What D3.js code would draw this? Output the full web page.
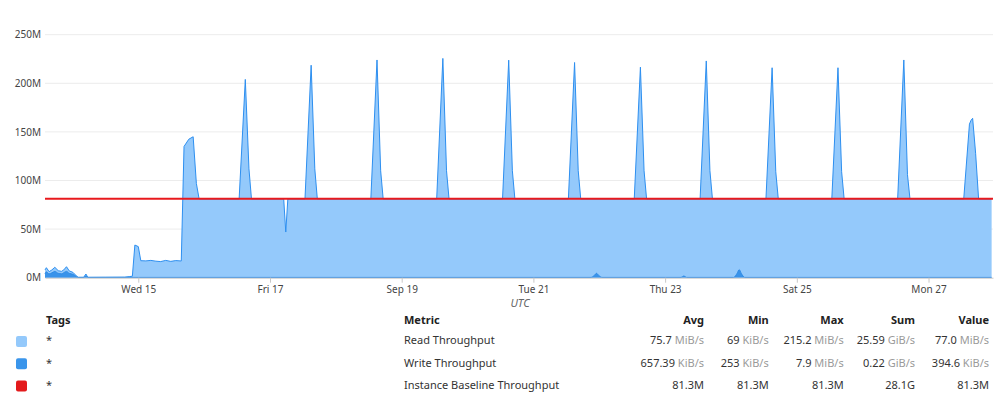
<!DOCTYPE html>
<html><head><meta charset="utf-8">
<script src="https://cdn.jsdelivr.net/npm/d3@7"></script>
<style>
body{margin:0;background:#fff;}
svg{display:block;font-family:"Noto Sans",sans-serif;}
</style></head><body>
<svg id="c" width="1000" height="400"></svg>
<script>
// ---------- data ----------
const readTimes = [
 "2021-09-13T14:00","2021-09-13T14:30","2021-09-13T15:30","2021-09-13T16:30","2021-09-13T17:35",
 "2021-09-13T18:50","2021-09-13T20:00","2021-09-13T20:50","2021-09-13T21:50","2021-09-13T22:50",
 "2021-09-14T00:10","2021-09-14T01:30","2021-09-14T02:05","2021-09-14T04:05","2021-09-14T04:55",
 "2021-09-14T05:35","2021-09-14T12:00","2021-09-14T19:05","2021-09-14T20:55","2021-09-14T21:50",
 "2021-09-14T22:45","2021-09-15T00:00","2021-09-15T00:55","2021-09-15T02:45","2021-09-15T04:35",
 "2021-09-15T06:25","2021-09-15T08:10","2021-09-15T10:00","2021-09-15T11:50","2021-09-15T13:40",
 "2021-09-15T15:40","2021-09-15T16:40","2021-09-15T18:25","2021-09-15T20:00","2021-09-15T21:10",
 "2021-09-15T22:10",
 "2021-09-16T12:45","2021-09-16T15:00","2021-09-16T16:20","2021-09-16T17:15",
 "2021-09-17T05:00","2021-09-17T05:45","2021-09-17T06:30",
 "2021-09-17T12:45","2021-09-17T15:00","2021-09-17T16:20","2021-09-17T17:15",
 "2021-09-18T12:45","2021-09-18T15:00","2021-09-18T16:20","2021-09-18T17:15",
 "2021-09-19T12:45","2021-09-19T15:00","2021-09-19T16:20","2021-09-19T17:15",
 "2021-09-20T12:45","2021-09-20T15:00","2021-09-20T16:20","2021-09-20T17:15",
 "2021-09-21T12:45","2021-09-21T15:00","2021-09-21T16:20","2021-09-21T17:15",
 "2021-09-22T12:45","2021-09-22T15:00","2021-09-22T16:20","2021-09-22T17:15",
 "2021-09-23T12:45","2021-09-23T15:00","2021-09-23T16:20","2021-09-23T17:15",
 "2021-09-24T12:45","2021-09-24T15:00","2021-09-24T16:20","2021-09-24T17:15",
 "2021-09-25T12:45","2021-09-25T15:00","2021-09-25T16:20","2021-09-25T17:15",
 "2021-09-26T12:45","2021-09-26T15:00","2021-09-26T16:20","2021-09-26T17:15",
 "2021-09-27T12:50","2021-09-27T14:55","2021-09-27T15:30","2021-09-27T16:05","2021-09-27T17:10",
 "2021-09-27T18:15","2021-09-27T23:00"
];
const readValues = [
 8,10.3,6.2,8,10.7,
 7.2,6.5,8,11.3,7,
 5.5,1.7,0.4,0.4,3.8,
 0.4,0.5,0.6,1.2,1.5,
 33.6,32,17.5,17.3,17.8,
 17,16.6,17.8,16.8,17.6,
 17.2,135,142.5,145,97,
 81,
 81,204,112,81,
 81,47,81,
 81,218.6,112,81,
 81,224,110,81,
 81,225.6,110,81,
 81,223.8,110,81,
 81,221.4,110,81,
 81,216.6,110,81,
 81,223,110,81,
 81,216,109,81,
 81,216,109,81,
 81,224,106,81,
 81,158,162,164,128,
 81,81
];
const writeTimes = [
 "2021-09-13T14:00","2021-09-13T14:30","2021-09-13T15:30","2021-09-13T16:30","2021-09-13T17:35",
 "2021-09-13T18:50","2021-09-13T20:00","2021-09-13T21:50","2021-09-13T22:50","2021-09-14T00:10",
 "2021-09-14T01:30","2021-09-14T02:05","2021-09-14T04:15","2021-09-14T04:55","2021-09-14T05:35",
 "2021-09-21T21:00","2021-09-21T22:15","2021-09-21T23:00","2021-09-21T23:45","2021-09-22T01:00",
 "2021-09-23T05:50","2021-09-23T06:50","2021-09-23T07:50",
 "2021-09-24T01:00","2021-09-24T02:15","2021-09-24T03:00","2021-09-24T03:45","2021-09-24T05:00",
 "2021-09-27T23:00"
];
const writeValues = [
 4,6,4,5,6.5,
 4.5,4,6.5,4.5,3.5,
 1,0.3,0.3,2,0.3,
 0.3,2.5,4.5,2.5,0.3,
 0.3,1.8,0.3,
 0.3,4.5,8.3,4.5,0.3,
 0.3
];
const baselineTimes = ["2021-09-13T14:00","2021-09-27T23:30"];
const baselineValues = [81.3,81.3];

const yTicks = [0,50,100,150,200,250];
const xTickDates = ["2021-09-15","2021-09-17","2021-09-19","2021-09-21","2021-09-23","2021-09-25","2021-09-27"];
const xTickLabels = ["Wed 15","Fri 17","Sep 19","Tue 21","Thu 23","Sat 25","Mon 27"];

const seriesNames = ["Read Throughput","Write Throughput","Instance Baseline Throughput"];
const seriesTags = ["*","*","*"];
const colAvg = ["75.7 MiB/s","657.39 KiB/s","81.3M"];
const colMin = ["69 KiB/s","253 KiB/s","81.3M"];
const colMax = ["215.2 MiB/s","7.9 MiB/s","81.3M"];
const colSum = ["25.59 GiB/s","0.22 GiB/s","28.1G"];
const colValue = ["77.0 MiB/s","394.6 KiB/s","81.3M"];
const colHeaders = ["Avg","Min","Max","Sum","Value"];

// ---------- drawing ----------
const parse = d3.utcParse("%Y-%m-%dT%H:%M");
const parseDay = d3.utcParse("%Y-%m-%d");
const svg = d3.select("#c");
const colors = {read:"#94c9fb", readLine:"#2d8ff0", write:"#3993ea", base:"#e8191d"};
const swatch = ["#94c9fb","#3a95eb","#e31a1c"];

const x = d3.scaleUtc().domain([parse("2021-09-13T14:00"), parse("2021-09-27T23:30")]).range([45, 993]);
const y = d3.scaleLinear().domain([0,250]).range([277.7, 34.7]);

// grid
svg.append("g").selectAll("line").data(yTicks.filter(d=>d>0)).join("line")
  .attr("x1",45).attr("x2",993).attr("y1",d=>y(d)).attr("y2",d=>y(d))
  .attr("stroke","#ececec").attr("stroke-width",1);

const readData = readTimes.map((t,i)=>({t:parse(t), v:readValues[i]}));
const writeData = writeTimes.map((t,i)=>({t:parse(t), v:writeValues[i]}));
const baseData = baselineTimes.map((t,i)=>({t:parse(t), v:baselineValues[i]}));

const area = d3.area().x(d=>x(d.t)).y0(y(0)).y1(d=>y(d.v));
const line = d3.line().x(d=>x(d.t)).y(d=>y(d.v));

svg.append("path").datum(readData).attr("d",area).attr("fill",colors.read);
svg.append("path").datum(readData).attr("d",line).attr("fill","none")
  .attr("stroke",colors.readLine).attr("stroke-width",1).attr("stroke-linejoin","round");
svg.append("path").datum(writeData).attr("d",area.curve(d3.curveMonotoneX)).attr("fill",colors.write);
svg.append("path").datum(writeData).attr("d",line.curve(d3.curveMonotoneX)).attr("fill","none")
  .attr("stroke","#2f8be6").attr("stroke-width",1);
svg.append("path").datum(baseData).attr("d",d3.line().x(d=>x(d.t)).y(d=>y(d.v))).attr("fill","none")
  .attr("stroke",colors.base).attr("stroke-width",2);

// axes
const xAxis = svg.append("g").attr("transform",`translate(0,${y(0)})`)
  .call(d3.axisBottom(x).tickValues(xTickDates.map(parseDay))
    .tickFormat((d,i)=>xTickLabels[i]).tickSize(5).tickSizeOuter(0));
xAxis.select(".domain").attr("stroke","#c8c8c8");
xAxis.selectAll(".tick line").attr("stroke","#c8c8c8");
xAxis.selectAll("text").attr("fill","#444").style("font-size","10px").style("font-family","Noto Sans");

const yAxis = svg.append("g").attr("transform","translate(45,0)")
  .call(d3.axisLeft(y).tickValues(yTicks).tickFormat(d=>d+"M").tickSize(0).tickPadding(4));
yAxis.select(".domain").remove();
yAxis.selectAll("text").attr("fill","#444").style("font-size","10px").style("font-family","Noto Sans");

svg.append("text").attr("x",520).attr("y",307).attr("text-anchor","middle")
  .attr("fill","#666").style("font-size","11px").style("font-style","italic").text("UTC");

// table
const rowY = [344.3,366.5,388.7];
const headY = 324;
svg.append("text").attr("x",46).attr("y",headY).attr("fill","#222").style("font-weight","bold").style("font-size","11px").text("Tags");
svg.append("text").attr("x",404).attr("y",headY).attr("fill","#222").style("font-weight","bold").style("font-size","11px").text("Metric");
const colX = [704,768.7,843.7,915,989];
colHeaders.forEach((h,i)=>{
  svg.append("text").attr("x",colX[i]).attr("y",headY).attr("text-anchor","end")
    .attr("fill","#222").style("font-weight","bold").style("font-size","11px").text(h);
});
const cols = [colAvg,colMin,colMax,colSum,colValue];
seriesNames.forEach((name,r)=>{
  svg.append("rect").attr("x",16).attr("y",rowY[r]-8.2).attr("width",11).attr("height",11)
    .attr("rx",2).attr("fill",swatch[r]);
  svg.append("text").attr("x",46).attr("y",rowY[r]).attr("fill","#333").style("font-size","11px").text(seriesTags[r]);
  svg.append("text").attr("x",404).attr("y",rowY[r]).attr("fill","#333").style("font-size","11px").text(name);
  cols.forEach((col,c)=>{
    const parts = col[r].split(" ");
    const t = svg.append("text").attr("x",colX[c]).attr("y",rowY[r]).attr("text-anchor","end").style("font-size","11px");
    t.append("tspan").attr("fill","#333").text(parts[0]);
    if(parts[1]) t.append("tspan").attr("fill","#9a9a9a").text(" "+parts[1]);
  });
});
</script>
</body></html>
